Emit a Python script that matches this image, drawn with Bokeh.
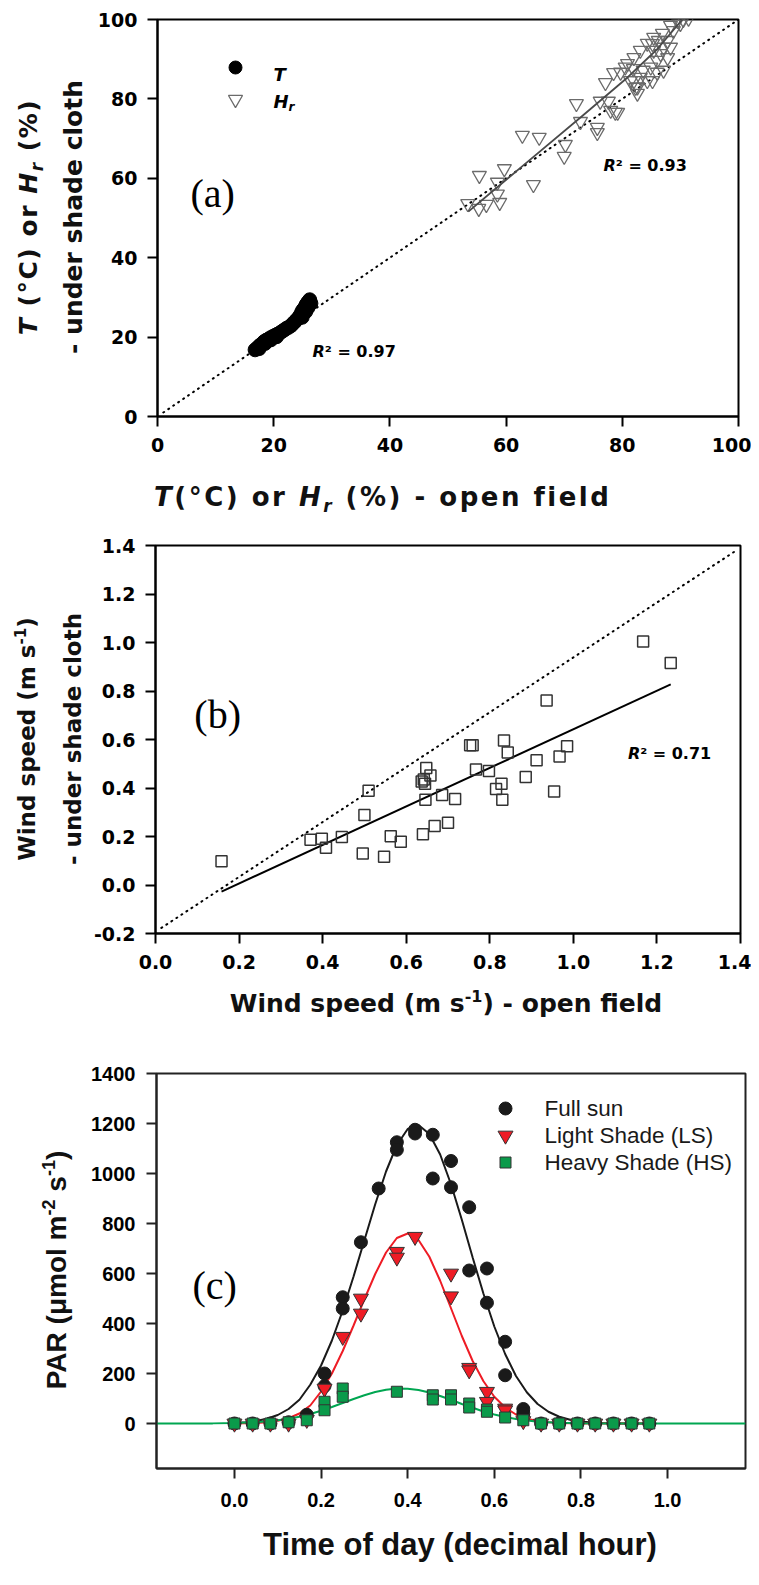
import math
from bokeh.plotting import figure
from bokeh.layouts import column, row
from bokeh.models import Label, FixedTicker, NumeralTickFormatter, Range1d, Div
from bokeh.embed import file_html
from bokeh.resources import INLINE

# ---------------- panel (a) data ----------------
t_open = [16.8, 17.2, 17.6, 18.0, 18.3, 18.7, 19.0, 19.4, 19.8, 20.2, 20.6, 21.0, 21.4, 21.8,
          22.2, 22.6, 23.0, 23.3, 23.6, 23.9, 24.2, 24.5, 24.8, 25.0, 25.2, 25.4, 25.6, 25.8,
          26.0, 26.2, 25.5, 24.9, 26.4, 25.9, 17.5, 18.5, 19.5, 20.5]
t_shade = [16.8, 17.3, 17.9, 18.3, 18.8, 19.2, 19.4, 19.8, 20.1, 20.4, 20.7, 21.0, 21.4, 21.8,
           22.2, 22.5, 22.9, 23.4, 23.8, 24.3, 24.7, 25.4, 26.2, 26.8, 27.0, 27.6, 28.2, 28.6,
           29.0, 29.4, 26.4, 25.0, 28.5, 27.4, 17.1, 18.4, 19.3, 20.1]
hr_open = [53.4, 55.3, 56.6, 58.5, 58.5, 58.9, 55.4, 59.7, 64.7, 62.8, 65.7, 70.2, 70.0, 72.1,
           72.8, 75.7, 75.7, 76.2, 77.6, 78.0, 78.8, 77.1, 78.5, 82.0, 82.6, 82.6, 85.2, 80.9,
           82.0, 83.1, 84.3, 85.4, 86.9, 88.3, 89.5, 90.5, 91.4, 86.6, 87.1, 86.0, 84.9, 83.6,
           81.9, 80.5, 79.7, 87.8, 88.8, 83.1, 84.3, 86.0, 87.8, 87.1, 88.3, 85.2, 86.2, 90.0,
           85.4, 79.2, 81.4, 82.3]
hr_shade = [53.6, 52.4, 53.4, 59.0, 56.0, 53.9, 60.7, 62.4, 58.4, 70.8, 70.3, 68.5, 65.5, 78.8,
            74.3, 72.8, 71.5, 79.4, 79.4, 77.1, 76.6, 84.1, 86.6, 84.6, 81.4, 83.0, 84.6, 88.9,
            90.4, 92.2, 94.0, 95.5, 96.5, 98.5, 99.7, 100.0, 100.3, 91.4, 93.0, 89.7, 88.0, 87.2,
            87.6, 88.0, 86.7, 94.7, 97.2, 85.4, 84.6, 86.7, 90.4, 87.2, 93.0, 93.9, 94.7, 99.0,
            92.2, 76.6, 84.6, 82.9]
hr_fit_x = [53.5, 62.5, 72.8, 80.9, 86.0, 90.5]
hr_fit_y = [51.6, 62.7, 75.3, 85.4, 92.5, 100.3]
a_one_x = [1, 100]
a_one_y = [1, 100]
a_ticks = [0, 20, 40, 60, 80, 100]

# ---------------- panel (b) data ----------------
ws_open = [0.158, 0.371, 0.398, 0.408, 0.446, 0.510, 0.500, 0.496, 0.547, 0.563, 0.587, 0.640,
           0.668, 0.700, 0.646, 0.686, 0.717, 0.637, 0.645, 0.658, 0.648, 0.642, 0.767, 0.798,
           0.753, 0.759, 0.834, 0.843, 0.828, 0.815, 0.830, 0.886, 0.912, 0.954, 0.967, 0.985,
           0.936, 1.167, 1.233]
ws_shade = [0.098, 0.187, 0.191, 0.154, 0.198, 0.389, 0.289, 0.130, 0.116, 0.201, 0.178, 0.209,
            0.243, 0.257, 0.352, 0.371, 0.355, 0.427, 0.418, 0.452, 0.482, 0.435, 0.476, 0.470,
            0.576, 0.576, 0.596, 0.546, 0.418, 0.396, 0.352, 0.445, 0.514, 0.386, 0.530, 0.572,
            0.761, 1.004, 0.915]
ws_fit_x = [0.158, 1.233]
ws_fit_y = [-0.027, 0.827]
b_ref_x = [0.014, 1.392]
b_ref_y = [-0.177, 1.382]
b_ticks_x = [0.0, 0.2, 0.4, 0.6, 0.8, 1.0, 1.2, 1.4]
b_ticks_y = [-0.2, 0.0, 0.2, 0.4, 0.6, 0.8, 1.0, 1.2, 1.4]

# ---------------- panel (c) data ----------------
sun_t = [0, 0.042, 0.083, 0.125, 0.167, 0.208, 0.208, 0.25, 0.25, 0.292, 0.333, 0.375, 0.375,
         0.417, 0.417, 0.458, 0.458, 0.5, 0.5, 0.542, 0.542, 0.583, 0.583, 0.625, 0.625, 0.667,
         0.667, 0.708, 0.75, 0.792, 0.833, 0.875, 0.917, 0.958]
sun_par = [0, 0, 0, 5, 35, 200, 150, 505, 460, 725, 940, 1125, 1095, 1175, 1160, 1155, 980,
           1050, 945, 865, 612, 620, 483, 327, 193, 58, 40, 0, 0, 0, 0, 0, 0, 0]
ls_t = [0, 0.042, 0.083, 0.125, 0.167, 0.208, 0.25, 0.292, 0.292, 0.375, 0.375, 0.417, 0.5, 0.5,
        0.542, 0.542, 0.583, 0.583, 0.625, 0.625, 0.667, 0.708, 0.75, 0.792, 0.833, 0.875, 0.917, 0.958]
ls_par = [0, 0, 0, 0, 15, 140, 347, 500, 440, 687, 664, 747, 600, 509, 223, 213, 127, 87, 60, 53,
          10, 0, 0, 0, 0, 0, 0, 0]
hs_t = [0, 0.042, 0.083, 0.125, 0.167, 0.208, 0.208, 0.25, 0.25, 0.375, 0.458, 0.458, 0.5, 0.5,
        0.542, 0.542, 0.583, 0.583, 0.625, 0.667, 0.708, 0.75, 0.792, 0.833, 0.875, 0.917, 0.958]
hs_par = [0, 0, 0, 5, 13, 87, 53, 140, 107, 127, 113, 96, 113, 96, 80, 64, 56, 47, 24, 13, 0, 0,
          0, 0, 0, 0, 0]
fit_grid = [0.0, 0.025, 0.05, 0.075, 0.1, 0.125, 0.15, 0.175, 0.2, 0.225, 0.25, 0.275, 0.3,
            0.325, 0.35, 0.375, 0.4, 0.425, 0.45, 0.475, 0.5, 0.525, 0.55, 0.575, 0.6, 0.625,
            0.65, 0.675, 0.7, 0.725, 0.75, 0.775, 0.8, 0.825, 0.85, 0.875, 0.9, 0.95]
sun_fit = [3, 5, 10, 19, 34, 58, 95, 155, 232, 332, 452, 588, 733, 877, 1008, 1114, 1178, 1194,
           1158, 1076, 957, 815, 664, 519, 388, 278, 190, 125, 78, 47, 27, 15, 8, 4, 2, 1, 0, 0]
ls_fit = [0, 1, 2, 5, 11, 21, 40, 72, 128, 200, 290, 392, 497, 598, 684, 742, 760, 734, 667, 571,
          461, 350, 250, 169, 107, 64, 36, 19, 10, 5, 2, 1, 0, 0, 0, 0, 0, 0]
hs_fit_x = [-0.18, -0.05, 0.0, 0.05, 0.1, 0.125, 0.15, 0.175, 0.2, 0.225, 0.25, 0.275, 0.3, 0.325,
            0.35, 0.375, 0.4, 0.425, 0.45, 0.475, 0.5, 0.525, 0.55, 0.575, 0.6, 0.625, 0.65,
            0.7, 0.75, 0.8, 0.85, 0.9, 1.18]
hs_fit_y = [0, 0.5, 2, 5, 13, 19, 27, 38, 51, 66, 82, 98, 113, 126, 135, 140, 139, 134, 124, 110,
            95, 78, 63, 48, 36, 26, 18, 7, 3, 1, 0, 0, 0]
c_ticks_x = [0.0, 0.2, 0.4, 0.6, 0.8, 1.0]
c_ticks_y = [0, 200, 400, 600, 800, 1000, 1200, 1400]
legend_c = ["Full sun", "Light Shade (LS)", "Heavy Shade (HS)"]

# ---------------- layout geometry (page px) ----------------
PA = dict(xr=(0, 100), yr=(0, 100), fx=(157, 738), fy=(19, 416))
PB = dict(xr=(0, 1.4), yr=(-0.2, 1.4), fx=(153, 740), fy=(545, 933))
PC = dict(xr=(-0.18, 1.18), yr=(-180, 1400), fx=(156, 745), fy=(1073, 1468))
RIGHT = 751


def to_data(P, px, py):
    x0, x1 = P["xr"]
    y0, y1 = P["yr"]
    fx0, fx1 = P["fx"]
    fy0, fy1 = P["fy"]
    return (x0 + (px - fx0) / (fx1 - fx0) * (x1 - x0),
            y0 + (fy1 - py) / (fy1 - fy0) * (y1 - y0))


def text_at(p, P, px, py, text, size, style="bold", font="DejaVu Sans", align="left",
            baseline="alphabetic", color="black"):
    x, y = to_data(P, px, py)
    p.add_layout(Label(x=x, y=y, text=text, text_font=font, text_font_size=f"{size}px",
                       text_font_style=style, text_color=color, text_align=align,
                       text_baseline=baseline))


def title_div(w, h, items):
    """items: (html, x, baseline_y, font_px, family, vertical, anchor, letter_spacing)"""
    parts = []
    for html, x, by, fs, fam, vertical, anchor, ls in items:
        if vertical:
            cx, cy = x - 0.346 * fs, by
            tr = "translate(-50%,-50%) rotate(-90deg)"
        else:
            cx, cy = x, by - 0.346 * fs
            tr = "translate(-50%,-50%)" if anchor == "center" else "translate(0,-50%)"
        parts.append(
            f'<div style="position:absolute;left:{cx:.1f}px;top:{cy:.1f}px;transform:{tr};'
            f'white-space:nowrap;line-height:1;font-family:\'{fam}\';font-weight:bold;'
            f'font-size:{fs}px;letter-spacing:{ls}px;color:#111;margin:0;padding:0">{html}</div>')
    inner = "".join(parts)
    return Div(text=f'<div style="position:relative;width:{w}px;height:{h}px;overflow:visible">'
                    f'{inner}</div>', width=w, height=h, margin=0)


def sup(t, px, up):
    return f'<span style="font-size:{px}px;position:relative;top:{-up}px;line-height:0">{t}</span>'


def sub(t, px, down):
    return f'<span style="font-size:{px}px;position:relative;top:{down}px;line-height:0">{t}</span>'


def make_fig(P, left, top, bottom, ticks_x, ticks_y, fmt_x, fmt_y, tick_font, tick_size,
             std_x, std_y, axis_color="black"):
    fx0, fx1 = P["fx"]
    fy0, fy1 = P["fy"]
    p = figure(width=RIGHT - left, height=bottom - top, x_range=Range1d(*P["xr"]),
               y_range=Range1d(*P["yr"]), output_backend="svg", toolbar_location=None, title=None,
               min_border_left=fx0 - left, min_border_right=RIGHT - fx1,
               min_border_top=fy0 - top, min_border_bottom=bottom - fy1)
    p.grid.visible = False
    p.outline_line_color = axis_color
    p.outline_line_width = 2
    p.xaxis.ticker = FixedTicker(ticks=ticks_x)
    p.yaxis.ticker = FixedTicker(ticks=ticks_y)
    p.xaxis.formatter = NumeralTickFormatter(format=fmt_x)
    p.yaxis.formatter = NumeralTickFormatter(format=fmt_y)
    for ax, std in ((p.xaxis[0], std_x), (p.yaxis[0], std_y)):
        ax.axis_line_width = 2
        ax.axis_line_color = axis_color
        ax.major_tick_line_width = 2
        ax.major_tick_line_color = axis_color
        ax.major_tick_out = 10
        ax.major_tick_in = 0
        ax.minor_tick_line_color = None
        ax.major_label_text_font = tick_font
        ax.major_label_text_font_style = "bold"
        ax.major_label_text_font_size = f"{tick_size}px"
        ax.major_label_text_color = "black"
        ax.major_label_standoff = std
        ax.axis_label = None
    return p


# ================= panel (a) =================
pa = make_fig(PA, 93, 0, 470, a_ticks, a_ticks, "0", "0", "DejaVu Sans", 19, 11, 10)
pa.line(a_one_x, a_one_y, line_color="black", line_width=2, line_dash="1 5", line_cap="round")
pa.scatter(hr_open, hr_shade, marker="inverted_triangle", size=14, fill_color=None,
           line_color="#6b6b6b", line_width=1.3)
pa.line(hr_fit_x, hr_fit_y, line_color="#4a4a4a", line_width=1.8)
pa.scatter(t_open, t_shade, marker="circle", size=14, fill_color="black", line_color="black")
lx, ly = to_data(PA, 235, 67)
pa.scatter([lx], [ly], marker="circle", size=13, fill_color="black", line_color="black")
lx, ly = to_data(PA, 235, 99)
pa.scatter([lx], [ly], marker="inverted_triangle", size=14, fill_color=None,
           line_color="#6b6b6b", line_width=1.3)
text_at(pa, PA, 273, 74, "T", 18, "bold italic")
text_at(pa, PA, 273, 101, "H", 18, "bold italic")
text_at(pa, PA, 273 + 0.837 * 18, 106, "r", 12, "bold italic")
text_at(pa, PA, 190, 193, "(a)", 40, "normal", font="Liberation Serif", baseline="middle")
text_at(pa, PA, 312, 351, "R", 16, "bold italic")
text_at(pa, PA, 312 + 0.77 * 16, 351, "² = 0.97", 16, "bold")
text_at(pa, PA, 603, 165, "R", 16, "bold italic")
text_at(pa, PA, 603 + 0.77 * 16, 165, "² = 0.93", 16, "bold")

ya = title_div(93, 470, [
    ("<i>T</i> (°C) or <i>H</i>" + sub("<i>r</i>", 17, 6) + " (%)", 37, 217, 25, "DejaVu Sans",
     True, "center", 1.5),
    ("- under shade cloth", 82, 217, 25, "DejaVu Sans", True, "center", 0)])
xa = title_div(RIGHT, 45, [
    ("<i>T</i>(°C) or <i>H</i>" + sub("<i>r</i>", 17, 6) + " (%) - open field", 154, 36, 26,
     "DejaVu Sans", False, "left", 2.5)])

# ================= panel (b) =================
pb = make_fig(PB, 90, 515, 985, b_ticks_x, b_ticks_y, "0.0", "0.0", "DejaVu Sans", 19, 11, 10)
pb.line(b_ref_x, b_ref_y, line_color="black", line_width=2, line_dash="1 5", line_cap="round")
pb.line(ws_fit_x, ws_fit_y, line_color="black", line_width=2)
pb.scatter(ws_open, ws_shade, marker="square", size=11, fill_color=None, line_color="#333333",
           line_width=1.5)
text_at(pb, PB, 192, 714, "(b)", 40, "normal", font="Liberation Serif", baseline="middle")
text_at(pb, PB, 627, 753, "R", 16, "bold italic")
text_at(pb, PB, 627 + 0.77 * 16, 753, "² = 0.71", 16, "bold")

yb = title_div(90, 470, [
    ("Wind speed (m s" + sup("-1", 15, 9) + ")", 35, 739 - 515, 23, "DejaVu Sans", True,
     "center", 0),
    ("- under shade cloth", 81, 739 - 515, 23, "DejaVu Sans", True, "center", 0)])
xb = title_div(RIGHT, 60, [
    ("Wind speed (m s" + sup("-1", 16, 10) + ") - open field", 446, 1012 - 985, 25,
     "DejaVu Sans", False, "center", 0)])

# ================= panel (c) =================
pc = make_fig(PC, 85, 1045, 1520, c_ticks_x, c_ticks_y, "0.0", "0", "Liberation Sans", 20, 14,
              11, axis_color="#222222")
pc.line(fit_grid, sun_fit, line_color="#1a1a1a", line_width=2)
pc.line(fit_grid, ls_fit, line_color="#ee1c25", line_width=2)
pc.line(hs_fit_x, hs_fit_y, line_color="#00a651", line_width=2)
pc.scatter(sun_t, sun_par, marker="circle", size=13, fill_color="#1a1a1a", line_color="#1a1a1a")
pc.scatter(ls_t, ls_par, marker="inverted_triangle", size=15, fill_color="#ee1c25",
           line_color="#333333", line_width=1)
pc.scatter(hs_t, hs_par, marker="square", size=11, fill_color="#0a9a4a", line_color="#333333",
           line_width=1)
for i, (mk, sz, fc) in enumerate([("circle", 13, "#1a1a1a"), ("inverted_triangle", 15, "#ee1c25"),
                                  ("square", 11, "#0a9a4a")]):
    mx, my = to_data(PC, 505, 1108 + 27 * i)
    pc.scatter([mx], [my], marker=mk, size=sz, fill_color=fc,
               line_color="#1a1a1a" if mk == "circle" else "#333333")
    text_at(pc, PC, 544, 1108 + 27 * i, legend_c[i], 22.5, "normal", font="Liberation Sans",
            baseline="middle", color="#1a1a1a")
text_at(pc, PC, 192, 1285, "(c)", 40, "normal", font="Liberation Serif", baseline="middle")

yc = title_div(85, 475, [
    ("PAR (μmol m" + sup("-2", 18, 11) + " s" + sup("-1", 18, 11) + ")", 67, 1270 - 1045, 28,
     "Liberation Sans", True, "center", 0)])
xc = title_div(RIGHT, 57, [
    ("Time of day (decimal hour)", 460, 1555 - 1520, 31, "Liberation Sans", False, "center", 0)])

layout = column(row(ya, pa, spacing=0), xa, row(yb, pb, spacing=0), xb,
                row(yc, pc, spacing=0), xc, spacing=0)
open("out.html", "w").write(file_html(layout, INLINE))
